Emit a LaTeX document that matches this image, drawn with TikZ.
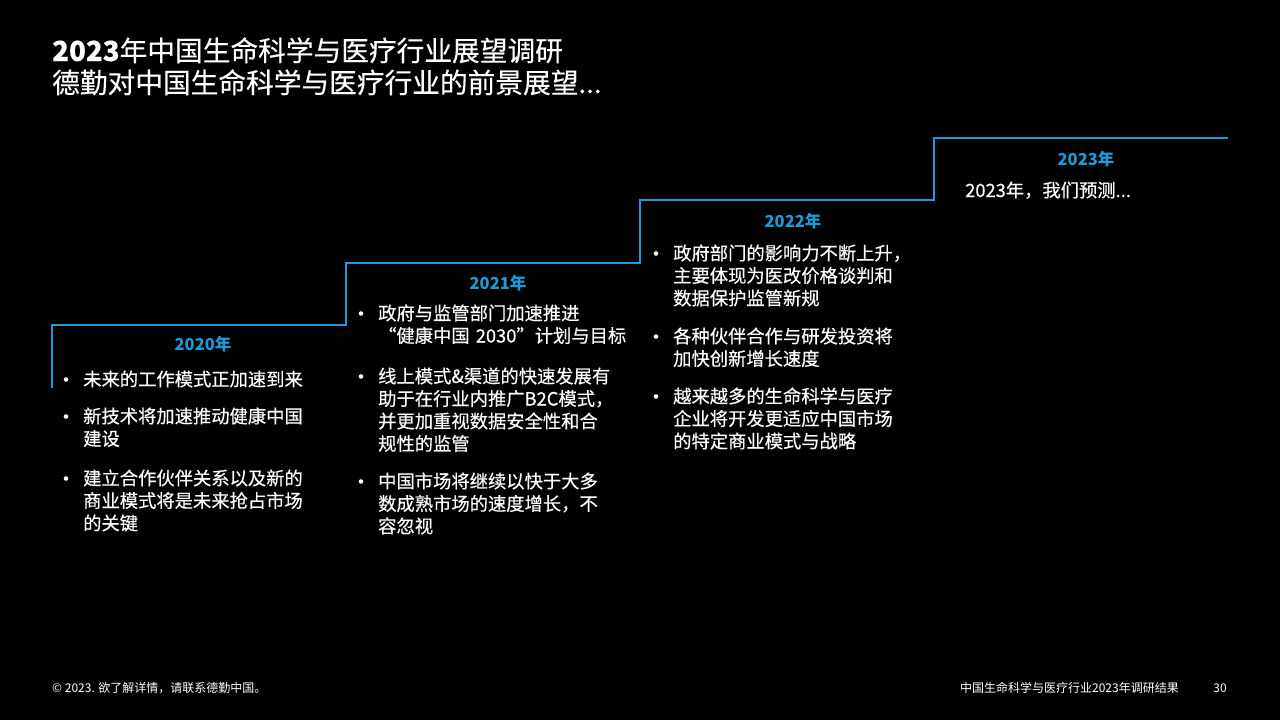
\documentclass[tikz,border=0pt]{standalone}
\usepackage{fontspec}
\setmainfont{Noto Sans CJK SC}
\newfontfamily\bodyfont{Noto Sans CJK SC}[FakeBold=0.35]
\usepackage{xcolor}
\usetikzlibrary{calc}

\definecolor{stepblue}{RGB}{30,155,215}

\begin{document}
\begin{tikzpicture}[x=1pt, y=-1pt,
    stairline/.style={draw=stepblue, line width=2.6pt, line join=miter},
    yearlabel/.style={text=stepblue, anchor=base, inner sep=0pt,
      font=\fontsize{16.5}{19}\selectfont\bfseries},
    itemtext/.style={text=white, anchor=base west, inner sep=0pt,
      text width=280pt, align=left,
      font=\bodyfont\fontsize{18.3}{22.5}\selectfont},
    titletext/.style={text=white, anchor=base west, inner sep=0pt,
      text width=700pt, align=left,
      font=\bodyfont\fontsize{27.7}{32}\selectfont},
    foottext/.style={text=white, inner sep=0pt,
      font=\fontsize{12}{14}\selectfont}]
  % Background
  \fill[black] (0, 0) rectangle (1280, 720);

  % Title
  \node[titletext] (title) at (52, 61)
    {\textbf{2023}年中国生命科学与医疗行业展望调研\\
     德勤对中国生命科学与医疗行业的前景展望...};

  % Stairs
  \draw[stairline] (52, 388) -- (52, 325) -- (346, 325) -- (346, 263)
    -- (640, 263) -- (640, 200) -- (934, 200) -- (934, 138) -- (1228, 138);

  % Year labels
  \node[yearlabel] (y2020) at (203, 350) {2020年};
  \node[yearlabel] (y2021) at (498, 289) {2021年};
  \node[yearlabel] (y2022) at (793, 227) {2022年};
  \node[yearlabel] (y2023) at (1086, 165) {2023年};

  % 2020
  \node[itemtext] (a2020) at (83, 386) {未来的工作模式正加速到来};
  \node[itemtext] (b2020) at (83, 423) {新技术将加速推动健康中国\\建设};
  \node[itemtext] (c2020) at (83, 485)
    {建立合作伙伴关系以及新的\\商业模式将是未来抢占市场\\的关键};

  % 2021
  \node[itemtext] (a2021) at (378, 320)
    {政府与监管部门加速推进\\“健康中国 2030”计划与目标};
  \node[itemtext] (b2021) at (378, 383)
    {线上模式\&渠道的快速发展有\\助于在行业内推广B2C模式，\\并更加重视数据安全性和合\\规性的监管};
  \node[itemtext] (c2021) at (378, 488)
    {中国市场将继续以快于大多\\数成熟市场的速度增长，不\\容忽视};

  % 2022
  \node[itemtext] (a2022) at (673, 260)
    {政府部门的影响力不断上升，\\主要体现为医改价格谈判和\\数据保护监管新规};
  \node[itemtext] (b2022) at (673, 343)
    {各种伙伴合作与研发投资将\\加快创新增长速度};
  \node[itemtext] (c2022) at (673, 403)
    {越来越多的生命科学与医疗\\企业将开发更适应中国市场\\的特定商业模式与战略};

  % 2023
  \node[itemtext] (a2023) at (965, 197) {2023年，我们预测...};

  % Bullets
  \foreach \n in {a2020, b2020, c2020, a2021, b2021, c2021, a2022, b2022, c2022}
    \fill[white] ($(\n.base west) + (-17, -6.5)$) circle (2.3pt);

  % Footer
  \node[foottext, anchor=base west] (copy) at (52, 692)
    {© 2023. 欲了解详情，请联系德勤中国。};
  \node[foottext, anchor=base east] (report) at (1179, 692)
    {中国生命科学与医疗行业2023年调研结果};
  \node[foottext, anchor=base east] (page) at (1227, 692) {30};
\end{tikzpicture}
\end{document}
